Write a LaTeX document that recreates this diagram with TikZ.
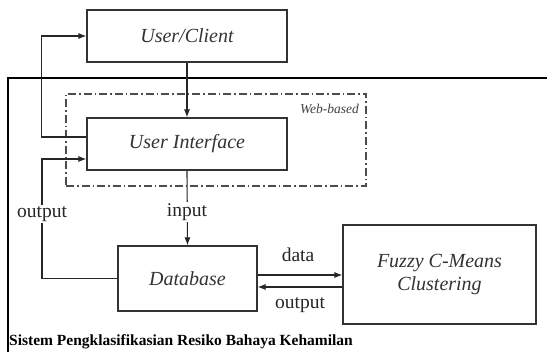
\documentclass[tikz,border=0pt]{standalone}
\usepackage{fontspec}
\setmainfont{Liberation Serif}
\usetikzlibrary{arrows.meta}
\begin{document}
\begin{tikzpicture}[x=1pt,y=-1pt,
  box/.style={draw=black!80,line width=1.1pt,inner sep=0pt,font=\itshape\fontsize{20}{22}\selectfont,text=black!80,align=center},
  conn/.style={line width=1.1pt,draw=black!85},
  arr/.style={conn,-{Latex[length=8pt,width=6pt]}},
  lbl/.style={fill=white,inner sep=1pt,font=\fontsize{19.5}{21}\selectfont,text=black!85}]
\useasboundingbox (0,0) rectangle (547,352);
% system frame
\draw[line width=1.5pt] (8,352) coordinate (fb) -- (8,78) coordinate (fc) -- (547,78) coordinate (fr);
% web-based region
\node[draw=black!70,line width=1.1pt,dash pattern=on 8pt off 3pt on 1.5pt off 3pt,minimum width=300pt,minimum height=92pt,inner sep=0pt] (web) at (216,140) {};
\node[anchor=east,inner sep=0pt,font=\itshape\fontsize{13.5}{15}\selectfont,text=black!75] (webl) at (359,109) {Web-based};
% boxes
\node[box,minimum width=200pt,minimum height=52pt] (uc) at (187,36) {User/Client};
\node[box,minimum width=200pt,minimum height=52pt,fill=white] (ui) at (187,144) {User Interface};
\node[box,minimum width=139pt,minimum height=65pt] (db) at (187.5,278.5) {Database};
\node[box,minimum width=193pt,minimum height=99pt] (fz) at (439.5,274.5) {Fuzzy C-Means\\[1pt]Clustering};
% connectors
\draw[arr] (uc.south) -- (ui.north);
\draw[arr] ([yshift=7pt]ui.west) -- ++(-45,0) coordinate (lp) |- (uc.west);
\draw[arr] (db.west) -- (42,278.5) coordinate (op) -- (42,159) coordinate (oq) -- (oq -| ui.west);
\node[lbl] (outl) at (42,214) {output};
\draw[arr] (ui.south) -- (db.north);
\node[lbl] (inl) at (187,212) {input};
\draw[arr] ([yshift=3.5pt]db.east) -- ([yshift=3.5pt]db.east -| fz.west);
\node[lbl,fill=none] (datal) at (298,255) {data};
\draw[arr] ([yshift=-8.5pt]db.east -| fz.west) -- ([yshift=-8.5pt]db.east);
\node[lbl,fill=none] (outl2) at (300,305) {output};
% caption
\node[anchor=west,inner sep=0pt,font=\bfseries\fontsize{15.5}{17}\selectfont] (cap) at (9,342) {Sistem Pengklasifikasian Resiko Bahaya Kehamilan};
\end{tikzpicture}
\end{document}
